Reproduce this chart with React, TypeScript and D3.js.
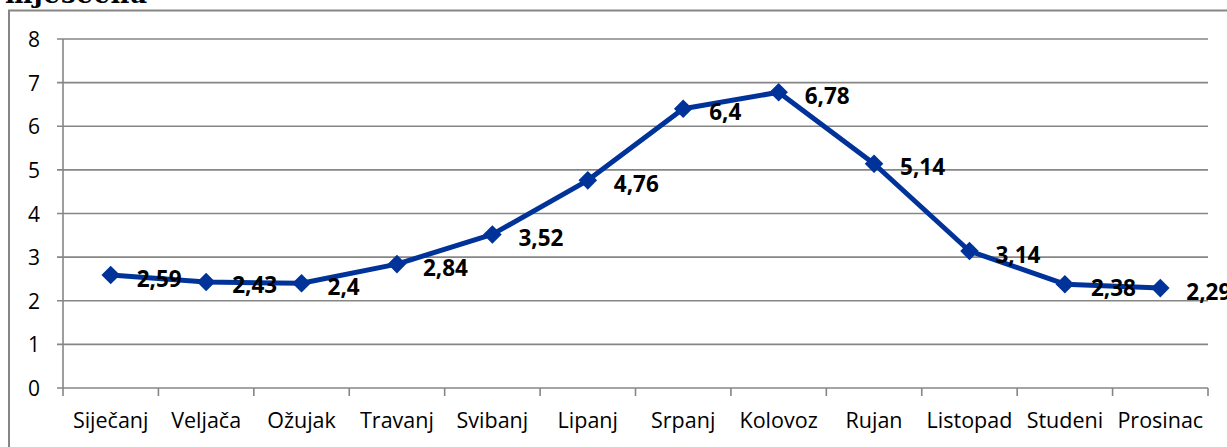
import React from "react";
import * as d3 from "d3";

const months = [
  "Siječanj", "Veljača", "Ožujak", "Travanj", "Svibanj", "Lipanj",
  "Srpanj", "Kolovoz", "Rujan", "Listopad", "Studeni", "Prosinac",
];
const values = [2.59, 2.43, 2.4, 2.84, 3.52, 4.76, 6.4, 6.78, 5.14, 3.14, 2.38, 2.29];
const labels = ["2,59", "2,43", "2,4", "2,84", "3,52", "4,76", "6,4", "6,78", "5,14", "3,14", "2,38", "2,29"];
const yTicks = [0, 1, 2, 3, 4, 5, 6, 7, 8];

const W = 1227;
const H = 447;
const plot = { left: 63, right: 1208, top: 39, bottom: 388 };
const grey = "#868686";
const blue = "#003399";
const font = "'Open Sans', 'Noto Sans', sans-serif";

const App: React.FC = () => {
  const x = d3.scaleBand<string>().domain(months).range([plot.left, plot.right]);
  const y = d3.scaleLinear().domain([0, 8]).range([plot.bottom, plot.top]);
  const cx = (m: string) => (x(m) || 0) + x.bandwidth() / 2;

  const line = d3
    .line<number>()
    .x((_, i) => cx(months[i]))
    .y((d) => y(d));

  const diamond = d3.symbol().type(d3.symbolDiamond2).size(220)();

  return (
    <svg
      width={W}
      height={H}
      style={{ position: "absolute", left: 0, top: 0, background: "#fff" }}
    >
      {/* cut-off title */}
      <text
        x={5}
        y={2.5}
        fontFamily="'DejaVu Serif', serif"
        fontWeight="bold"
        fontSize={26}
        textLength={142}
        fill="#000"
      >
        mjesečna
      </text>

      {/* chart area border */}
      <path d={`M9,${H + 2} V10.5 H${W + 2}`} fill="none" stroke={grey} strokeWidth={2} />

      {/* grid */}
      {yTicks.map((t) => (
        <g key={t}>
          <line x1={plot.left - 6} x2={plot.right} y1={y(t)} y2={y(t)} stroke={grey} strokeWidth={1.6} />
          <text
            x={40}
            y={y(t)}
            textAnchor="end"
            dominantBaseline="central"
            fontFamily={font}
            fontSize={21}
            fill="#000"
          >
            {t}
          </text>
        </g>
      ))}
      <line x1={plot.left} x2={plot.left} y1={plot.top} y2={plot.bottom} stroke={grey} strokeWidth={1.6} />

      {/* x ticks and labels */}
      {months.map((m, i) => (
        <line
          key={"t" + i}
          x1={x(m) || 0}
          x2={x(m) || 0}
          y1={plot.bottom}
          y2={plot.bottom + 8}
          stroke={grey}
          strokeWidth={1.6}
        />
      ))}
      <line x1={plot.right} x2={plot.right} y1={plot.bottom} y2={plot.bottom + 8} stroke={grey} strokeWidth={1.6} />
      {months.map((m) => (
        <text
          key={m}
          x={cx(m)}
          y={428}
          textAnchor="middle"
          fontFamily={font}
          fontSize={21.5}
          fill="#000"
        >
          {m}
        </text>
      ))}

      {/* series */}
      <path d={line(values) || ""} fill="none" stroke={blue} strokeWidth={5} strokeLinejoin="round" />
      {values.map((v, i) => (
        <path key={"p" + i} d={diamond || ""} transform={`translate(${cx(months[i])},${y(v)})`} fill={blue} />
      ))}
      {values.map((v, i) => (
        <text
          key={"l" + i}
          x={cx(months[i]) + 26}
          y={y(v) + 3}
          dominantBaseline="central"
          fontFamily={font}
          fontWeight="bold"
          fontSize={22.5}
          fill="#000"
        >
          {labels[i]}
        </text>
      ))}
    </svg>
  );
};

export default App;
